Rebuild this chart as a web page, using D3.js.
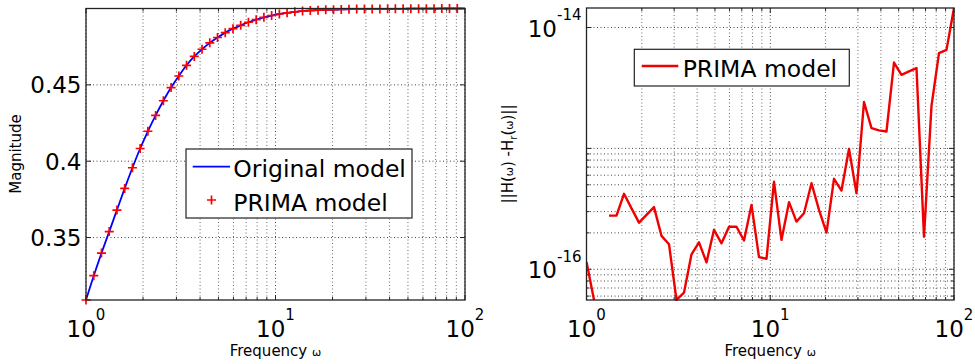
<!DOCTYPE html>
<html>
<head>
<meta charset="utf-8">
<script src="https://cdn.jsdelivr.net/npm/d3@7"></script>
<style>
  body { margin: 0; background: #fff; }
  svg { display: block; }
  text { font-family: "DejaVu Sans", sans-serif; fill: #000; }
</style>
</head>
<body>
<svg id="chart" width="975" height="364"></svg>
<script>
// frequencies (rad/s), log spaced 1..100
var freq = [1, 1.099, 1.207, 1.326, 1.456, 1.600, 1.758, 1.931, 2.121, 2.330,
    2.560, 2.812, 3.089, 3.393, 3.728, 4.095, 4.498, 4.942, 5.429, 5.964,
    6.551, 7.197, 7.906, 8.685, 9.541, 10.48, 11.51, 12.65, 13.89, 15.26,
    16.77, 18.42, 20.24, 22.23, 24.42, 26.83, 29.47, 32.37, 35.56, 39.07,
    42.92, 47.15, 51.79, 56.90, 62.51, 68.66, 75.43, 82.86, 91.03, 100];

// |H(w)| of the original model
var magOriginal = [0.3091, 0.3250, 0.3398, 0.3539, 0.3680, 0.3822, 0.3957, 0.4083, 0.4196, 0.4300,
    0.4396, 0.4482, 0.4558, 0.4628, 0.4686, 0.4733, 0.4775, 0.4810, 0.4842, 0.4868,
    0.4890, 0.4910, 0.4927, 0.4942, 0.4954, 0.4964, 0.4972, 0.4978, 0.4983, 0.4987,
    0.4989, 0.4991, 0.4992, 0.4994, 0.4995, 0.4996, 0.4996, 0.4997, 0.4997, 0.4998,
    0.4998, 0.4998, 0.4999, 0.4999, 0.4999, 0.4999, 0.5, 0.5, 0.5, 0.5];

// PRIMA markers sit on the original curve (no marker drawn at w = 100)
var magPrima = magOriginal.slice(0, 49);

// ||H(w) - Hr(w)||, null where the error is exactly zero
var errPrima = [1.15e-16, 5.57e-17, null, 2.78e-16, 2.78e-16, 4.21e-16, 3.19e-16, 2.43e-16, 2.82e-16, 3.27e-16,
    1.89e-16, 1.61e-16, 5.57e-17, 6.41e-17, 1.33e-16, 1.67e-16, 1.14e-16, 2.12e-16, 1.64e-16, 2.25e-16,
    2.25e-16, 1.73e-16, 3.41e-16, 1.26e-16, 1.22e-16, 5.31e-16, 1.75e-16, 3.59e-16, 2.48e-16, 2.91e-16,
    5.15e-16, 3.10e-16, 2.01e-16, 5.60e-16, 4.48e-16, 9.90e-16, 4.26e-16, 2.42e-15, 1.47e-15, 1.41e-15,
    1.38e-15, 5.13e-15, 4.06e-15, 4.33e-15, 4.62e-15, 1.86e-16, 2.25e-15, 6.14e-15, 6.53e-15, 1.45e-14];

var freqTicks = [1, 10, 100];
var freqTickExp = ["0", "1", "2"];
var magTicks = [0.35, 0.4, 0.45];
var magTickLabels = ["0.35", "0.4", "0.45"];
var errTicks = [1e-16, 1e-14];
var errTickExp = ["-16", "-14"];

var svg = d3.select("#chart");

var left = { x0: 86, x1: 465, y0: 8.5, y1: 300 };
var right = { x0: 586.5, x1: 954, y0: 8, y1: 300 };

var xL = d3.scaleLog().domain([1, 100]).range([left.x0, left.x1]);
var yL = d3.scaleLinear().domain(d3.extent(magOriginal)).range([left.y1, left.y0]);
var xR = d3.scaleLog().domain([1, 100]).range([right.x0, right.x1]);
var yR = d3.scaleLog().domain(d3.extent(errPrima.filter(function(d) { return d != null; })))
    .range([right.y1, right.y0]);

var plusPath = "M-4.5,0H4.5M0,-4.5V4.5";

var gridStyle = function(sel) {
    sel.attr("stroke", "#444").attr("stroke-width", 1).attr("stroke-dasharray", "1,2.5");
};

var drawFrame = function(box) {
    svg.append("rect")
        .attr("x", box.x0).attr("y", box.y0)
        .attr("width", box.x1 - box.x0).attr("height", box.y1 - box.y0)
        .attr("fill", "none").attr("stroke", "#222").attr("stroke-width", 1.3);
};

var drawXGridAndTicks = function(x, box) {
    var all = x.ticks();
    svg.append("g").selectAll("line").data(all).enter().append("line")
        .attr("x1", function(d) { return x(d); }).attr("x2", function(d) { return x(d); })
        .attr("y1", box.y0).attr("y2", box.y1)
        .call(gridStyle)
        .attr("stroke-opacity", function(d) { return freqTicks.indexOf(d) >= 0 ? 1 : 0.8; });
    // small inside ticks, top and bottom
    var g = svg.append("g").attr("stroke", "#222");
    all.forEach(function(d) {
        var len = freqTicks.indexOf(d) >= 0 ? 5 : 3;
        g.append("line").attr("x1", x(d)).attr("x2", x(d)).attr("y1", box.y1).attr("y2", box.y1 - len);
        g.append("line").attr("x1", x(d)).attr("x2", x(d)).attr("y1", box.y0).attr("y2", box.y0 + len);
    });
    // 10^n labels
    var lab = svg.append("g").selectAll("text").data(freqTicks).enter().append("text")
        .attr("x", function(d) { return x(d); })
        .attr("y", 336.7)
        .attr("text-anchor", "middle")
        .style("font-size", "23px");
    lab.append("tspan").text("10");
    lab.append("tspan").attr("dy", -16.5).style("font-size", "15px")
        .text(function(d, i) { return freqTickExp[i]; });
};

var drawYTicks = function(values, y, box, major) {
    var g = svg.append("g").attr("stroke", "#222");
    values.forEach(function(d) {
        var len = major.indexOf(d) >= 0 ? 5 : 3;
        g.append("line").attr("x1", box.x0).attr("x2", box.x0 + len).attr("y1", y(d)).attr("y2", y(d));
        g.append("line").attr("x1", box.x1).attr("x2", box.x1 - len).attr("y1", y(d)).attr("y2", y(d));
    });
};

// ---------- left panel: magnitude ----------
drawXGridAndTicks(xL, left);

svg.append("g").selectAll("line").data(magTicks).enter().append("line")
    .attr("x1", left.x0).attr("x2", left.x1)
    .attr("y1", function(d) { return yL(d); }).attr("y2", function(d) { return yL(d); })
    .call(gridStyle);
drawYTicks(magTicks, yL, left, magTicks);

svg.append("g").selectAll("text").data(magTicks).enter().append("text")
    .attr("x", left.x0 - 4.5)
    .attr("y", function(d) { return yL(d) + 8.4; })
    .attr("text-anchor", "end")
    .style("font-size", "23px")
    .text(function(d, i) { return magTickLabels[i]; });

var magLine = d3.line()
    .x(function(d, i) { return xL(freq[i]); })
    .y(function(d) { return yL(d); })
    .curve(d3.curveMonotoneX);

svg.append("path")
    .datum(magOriginal)
    .attr("d", magLine)
    .attr("fill", "none")
    .attr("stroke", "#0000ff")
    .attr("stroke-width", 1.8);

svg.append("g").selectAll("path").data(magPrima).enter().append("path")
    .attr("d", plusPath)
    .attr("transform", function(d, i) { return "translate(" + xL(freq[i]) + "," + yL(d) + ")"; })
    .attr("fill", "none")
    .attr("stroke", "#ff0000")
    .attr("stroke-width", 1.7);

drawFrame(left);

svg.append("text")
    .attr("transform", "translate(21,154) rotate(-90)")
    .attr("text-anchor", "middle")
    .style("font-size", "15px")
    .text("Magnitude");

var freqLabel = function(cx) {
    var t = svg.append("text")
        .attr("x", cx).attr("y", 356)
        .attr("text-anchor", "middle")
        .style("font-size", "15px");
    t.append("tspan").text("Frequency ");
    t.append("tspan").style("font-size", "11px").text("ω");
};
freqLabel((left.x0 + left.x1) / 2);

// legend, left
var legL = svg.append("g");
legL.append("rect").attr("x", 186).attr("y", 149).attr("width", 226).attr("height", 69)
    .attr("fill", "#fff").attr("stroke", "#222").attr("stroke-width", 1.2);
legL.append("line").attr("x1", 192.7).attr("x2", 230).attr("y1", 166.7).attr("y2", 166.7)
    .attr("stroke", "#0000ff").attr("stroke-width", 1.8);
legL.append("text").attr("x", 233.3).attr("y", 176.7).style("font-size", "23.5px").text("Original model");
legL.append("path").attr("d", plusPath).attr("transform", "translate(211.5,200)")
    .attr("stroke", "#ff0000").attr("stroke-width", 1.7);
legL.append("text").attr("x", 233.3).attr("y", 210.7).style("font-size", "23.5px").text("PRIMA model");

// ---------- right panel: error ----------
drawXGridAndTicks(xR, right);

// MATLAB drew no minor grid in the top decade here
var errGrid = yR.ticks().filter(function(d) {
    var e = Math.log10(d);
    return d < 1e-15 || Math.abs(e - Math.round(e)) < 1e-6;
});
svg.append("g").selectAll("line").data(errGrid).enter().append("line")
    .attr("x1", right.x0).attr("x2", right.x1)
    .attr("y1", function(d) { return yR(d); }).attr("y2", function(d) { return yR(d); })
    .call(gridStyle);
drawYTicks(errGrid, yR, right, [1e-16, 1e-15, 1e-14]);

var ylab = svg.append("g").selectAll("text").data(errTicks).enter().append("text")
    .attr("x", right.x0 - 5)
    .attr("y", function(d) { return yR(d) + 9; })
    .attr("text-anchor", "end")
    .style("font-size", "23px");
ylab.append("tspan").text("10");
ylab.append("tspan").attr("dy", -16.5).style("font-size", "15px")
    .text(function(d, i) { return errTickExp[i]; });

svg.append("defs").append("clipPath").attr("id", "clipR")
    .append("rect").attr("x", right.x0).attr("y", right.y0 - 1)
    .attr("width", right.x1 - right.x0).attr("height", right.y1 - right.y0 + 2);

var errLine = d3.line()
    .defined(function(d) { return d != null; })
    .x(function(d, i) { return xR(freq[i]); })
    .y(function(d) { return yR(d); });

svg.append("path")
    .datum(errPrima)
    .attr("clip-path", "url(#clipR)")
    .attr("d", errLine)
    .attr("fill", "none")
    .attr("stroke", "#f00000")
    .attr("stroke-width", 2.4)
    .attr("stroke-linejoin", "round");

drawFrame(right);

var errLabel = svg.append("text")
    .attr("transform", "translate(513,154) rotate(-90)")
    .attr("text-anchor", "middle")
    .style("font-size", "15px");
errLabel.append("tspan").text("||H(");
errLabel.append("tspan").style("font-size", "11px").text("ω");
errLabel.append("tspan").text(") -H");
errLabel.append("tspan").attr("dy", 4).style("font-size", "10px").text("r");
errLabel.append("tspan").attr("dy", -4).text("(");
errLabel.append("tspan").style("font-size", "11px").text("ω");
errLabel.append("tspan").text(")||");

freqLabel((right.x0 + right.x1) / 2);

// legend, right
var legR = svg.append("g");
legR.append("rect").attr("x", 634.3).attr("y", 49.3).attr("width", 215).attr("height", 36.7)
    .attr("fill", "#fff").attr("stroke", "#222").attr("stroke-width", 1.2);
legR.append("line").attr("x1", 641.7).attr("x2", 678.3).attr("y1", 66).attr("y2", 66)
    .attr("stroke", "#f00000").attr("stroke-width", 2.4);
legR.append("text").attr("x", 682.7).attr("y", 77.3).style("font-size", "23.5px").text("PRIMA model");
</script>
</body>
</html>
